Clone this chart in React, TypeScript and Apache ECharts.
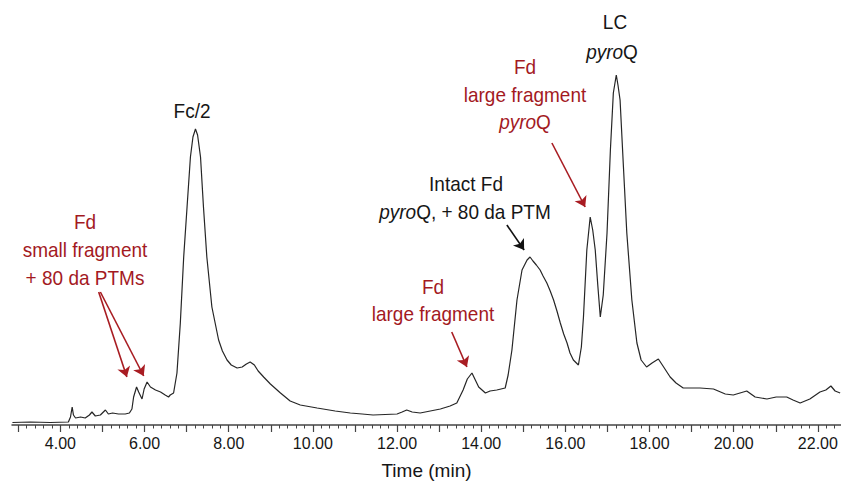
import React, { useEffect, useRef } from "react";
import * as echarts from "echarts";

// Retention time (min) and detector response (arbitrary units)
const times = [
  2.86, 3.29, 3.76, 4.19, 4.24, 4.28, 4.31, 4.36, 4.48, 4.59, 4.69, 4.75, 4.83, 4.95, 5.07, 5.14,
  5.24, 5.38, 5.54, 5.64, 5.7, 5.74, 5.81, 5.86, 5.94, 5.99, 6.06, 6.14, 6.26, 6.38, 6.49, 6.57,
  6.61, 6.69, 6.77, 6.85, 6.93, 7.01, 7.09, 7.15, 7.21, 7.26, 7.33, 7.4, 7.48, 7.6, 7.76, 7.85,
  7.96, 8.06, 8.2, 8.32, 8.42, 8.51, 8.61, 8.7, 8.83, 8.99, 9.23, 9.46, 9.7, 10.1, 10.53, 10.89,
  11.17, 11.43, 11.72, 12.0, 12.12, 12.23, 12.36, 12.55, 12.79, 13.03, 13.26, 13.42, 13.57, 13.67,
  13.78, 13.86, 13.94, 14.1, 14.21, 14.37, 14.57, 14.64, 14.73, 14.85, 14.97, 15.09, 15.16, 15.23,
  15.31, 15.4, 15.47, 15.56, 15.64, 15.72, 15.8, 15.88, 15.96, 16.04, 16.11, 16.19, 16.31, 16.38,
  16.43, 16.51, 16.59, 16.65, 16.71, 16.77, 16.83, 16.9, 16.99, 17.07, 17.14, 17.21, 17.25, 17.3,
  17.38, 17.46, 17.58, 17.7, 17.8, 17.93, 18.06, 18.21, 18.32, 18.49, 18.63, 18.8, 19.01, 19.2,
  19.52, 19.8, 19.99, 20.15, 20.31, 20.51, 20.79, 21.01, 21.26, 21.41, 21.58, 21.81, 22.05, 22.19,
  22.31, 22.41, 22.53,
];
const intensity = [
  2.5, 3, 2.5, 3, 8, 18, 10, 7, 8, 7, 10, 13, 9, 10, 15, 11,
  12, 11, 11, 12, 16, 28, 38, 33, 26, 36, 43, 38, 35, 33, 30, 28,
  30, 32, 52, 102, 168, 218, 268, 288, 296, 290, 268, 218, 168, 118, 85, 74,
  65, 60, 57, 58, 61, 63, 60, 54, 48, 41, 32, 24, 20, 17, 14, 12,
  11, 10, 10.5, 11, 13, 15, 13, 12, 14, 16, 19, 22, 35, 46,
  52, 45, 38, 32, 34, 35, 37, 50, 75, 125, 155, 165, 168, 164,
  160, 155, 149, 142, 134, 125, 114, 102, 91, 82, 72, 65, 60, 78,
  108, 175, 208, 195, 175, 140, 108, 130, 192, 275, 332, 350, 340, 325,
  258, 192, 125, 82, 65, 58, 62, 66, 59, 48, 42, 37, 37, 37,
  36, 31, 30, 32, 34, 28, 26, 28, 28, 25, 22, 26, 33, 35,
  39, 34, 32,
];

// Axis ticks and labels
const majorTicks = [3, 4, 5, 6, 7, 8, 9, 10, 11, 12, 13, 14, 15, 16, 17, 18, 19, 20, 21, 22];
const tickLabels = [4, 6, 8, 10, 12, 14, 16, 18, 20, 22];

// Annotation arrows: [time, value] of start and tip
const arrowStarts = [
  [4.91, 133],
  [4.95, 133],
  [13.3, 93],
  [14.61, 200],
  [15.68, 282],
];
const arrowEnds = [
  [5.58, 48],
  [5.98, 49],
  [13.66, 58],
  [15.02, 175],
  [16.47, 218],
];
const arrowColors = ["#a81c22", "#a81c22", "#a81c22", "#111111", "#a81c22"];

const RED = "#a31a1f";
const BLACK = "#161616";
const FONT = "'Liberation Sans', Arial, sans-serif";

export default function App() {
  const ref = useRef<HTMLDivElement>(null);

  useEffect(() => {
    if (!ref.current) return;
    const chart = echarts.init(ref.current, null, { renderer: "svg" });

    const minorTicks: number[] = [];
    for (let i = 15; i <= 112; i++) {
      if (i % 5 !== 0) minorTicks.push(i / 5);
    }

    const txt = (text: string, x: number, y: number, fill: string, rich?: any) => ({
      type: "text",
      x,
      y,
      scaleY: 1.1,
      style: {
        text,
        x: 0,
        y: 0,
        align: "center",
        verticalAlign: "middle",
        fill,
        font: `19px ${FONT}`,
        rich,
      },
    });
    const italicRich = (fill: string) => ({
      i: { fontStyle: "italic", fontSize: 19, fontFamily: FONT, fill },
      n: { fontSize: 19, fontFamily: FONT, fill },
    });

    chart.setOption({
      animation: false,
      backgroundColor: "#ffffff",
      grid: { left: 12, right: 0, top: 25, bottom: 60 },
      xAxis: [
        {
          type: "value",
          min: 2.85,
          max: 22.55,
          position: "bottom",
          offset: 0,
          name: "Time (min)",
          nameLocation: "middle",
          nameGap: 36,
          nameTextStyle: { fontFamily: FONT, fontSize: 19, color: BLACK },
          splitLine: { show: false },
          axisLine: { show: true, onZero: false, lineStyle: { color: "#444", width: 1.5 } },
          axisTick: {
            show: true,
            customValues: majorTicks,
            length: 7,
            lineStyle: { color: "#444", width: 1.2 },
          },
          axisLabel: {
            customValues: tickLabels,
            formatter: (v: number) => v.toFixed(2),
            fontFamily: FONT,
            fontSize: 16,
            color: BLACK,
            margin: 10,
          },
        },
        {
          type: "value",
          min: 2.85,
          max: 22.55,
          position: "bottom",
          offset: 0,
          splitLine: { show: false },
          axisLine: { show: false, onZero: false },
          axisTick: {
            show: true,
            customValues: minorTicks,
            length: 3.5,
            lineStyle: { color: "#444", width: 1 },
          },
          axisLabel: { show: false },
        },
      ],
      yAxis: {
        type: "value",
        min: 0,
        max: 400,
        show: false,
        splitLine: { show: false },
      },
      series: [
        {
          type: "line",
          xAxisIndex: 0,
          data: times.map((t, i) => [t, intensity[i]]),
          showSymbol: false,
          symbol: "none",
          lineStyle: { color: "#262626", width: 1.2 },
          silent: true,
          markLine: {
            silent: true,
            symbol: ["none", "arrow"],
            symbolSize: 10,
            label: { show: false },
            data: arrowStarts.map((s, i) => [
              { coord: s, lineStyle: { color: arrowColors[i], width: 1.6, type: "solid" } },
              { coord: arrowEnds[i] },
            ]),
          },
        },
      ],
      graphic: [
        txt("Fc/2", 192, 111, BLACK),
        txt("Fd", 85, 222, RED),
        txt("small fragment", 85, 250, RED),
        txt("+ 80 da PTMs", 85, 278, RED),
        txt("Fd", 433, 287, RED),
        txt("large fragment", 433, 314, RED),
        txt("Intact Fd", 466, 184, BLACK),
        txt("{i|pyro}{n|Q, + 80 da PTM}", 465, 212, BLACK, italicRich(BLACK)),
        txt("Fd", 525, 67, RED),
        txt("large fragment", 525, 95, RED),
        txt("{i|pyro}{n|Q}", 525, 122, RED, italicRich(RED)),
        txt("LC", 615, 22, BLACK),
        txt("{i|pyro}{n|Q}", 612, 52, BLACK, italicRich(BLACK)),
      ],
    });

    return () => chart.dispose();
  }, []);

  return (
    <div
      ref={ref}
      style={{ position: "fixed", left: 0, top: 0, width: 841, height: 485, background: "#fff" }}
    />
  );
}
